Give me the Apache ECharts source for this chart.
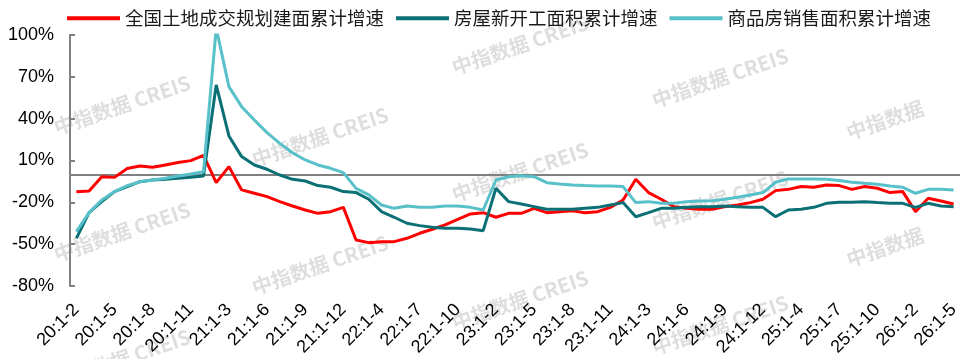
<!DOCTYPE html>
<html>
<head>
<meta charset="utf-8">
<script src="https://cdn.jsdelivr.net/npm/echarts@6/dist/echarts.min.js"></script>
<style>
html,body{margin:0;padding:0;background:#fff;}
#chart{width:972px;height:359px;}
</style>
</head>
<body>
<div id="chart"></div>
<script>
var categories = [
  '20:1-2','20:1-3','20:1-4','20:1-5','20:1-6','20:1-7','20:1-8','20:1-9','20:1-10','20:1-11','20:1-12',
  '21:1-2','21:1-3','21:1-4','21:1-5','21:1-6','21:1-7','21:1-8','21:1-9','21:1-10','21:1-11','21:1-12',
  '22:1-2','22:1-3','22:1-4','22:1-5','22:1-6','22:1-7','22:1-8','22:1-9','22:1-10','22:1-11','22:1-12',
  '23:1-2','23:1-3','23:1-4','23:1-5','23:1-6','23:1-7','23:1-8','23:1-9','23:1-10','23:1-11','23:1-12',
  '24:1-2','24:1-3','24:1-4','24:1-5','24:1-6','24:1-7','24:1-8','24:1-9','24:1-10','24:1-11','24:1-12',
  '25:1-2','25:1-3','25:1-4','25:1-5','25:1-6','25:1-7','25:1-8','25:1-9','25:1-10','25:1-11','25:1-12',
  '26:1-2','26:1-3','26:1-4','26:1-5'
];

var landArea = [
  -12.4,-11.9,-1.6,-2.1,4.2,6.1,5.1,6.8,8.5,9.9,13.7,
  -5.9,5.6,-11.1,-13.5,-15.9,-19.5,-22.6,-25.5,-27.9,-26.7,-23.6,
  -47.0,-48.9,-48.2,-48.2,-45.8,-42.2,-39.3,-36.2,-32.2,-28.3,-27.4,
  -30.7,-27.9,-27.9,-24.3,-27.4,-26.7,-26.0,-27.4,-26.7,-23.6,-18.3,
  -3.5,-13.0,-17.8,-23.1,-24.3,-25.0,-25.0,-23.1,-21.9,-20.2,-17.8,
  -11.6,-10.7,-8.7,-9.2,-7.6,-8.0,-10.7,-8.7,-9.9,-13.0,-12.3,
  -26.7,-17.1,-19.0,-21.2
];

var newStarts = [
  -45.8,-27.4,-19.5,-12.3,-8.7,-5.2,-4.0,-3.5,-2.8,-2.0,-1.1,
  64.2,27.6,12.8,6.8,3.7,-0.4,-3.5,-4.7,-8.0,-9.2,-12.3,
  -13.0,-17.8,-26.7,-30.7,-35.0,-36.7,-37.9,-38.6,-38.6,-39.1,-40.3,
  -9.9,-19.5,-21.2,-23.1,-25.0,-25.0,-25.0,-24.3,-23.6,-21.9,-20.2,
  -30.3,-27.4,-24.3,-24.3,-23.6,-23.1,-23.1,-22.6,-23.1,-23.6,-23.6,
  -30.3,-25.5,-25.0,-23.6,-20.7,-20.0,-20.0,-19.5,-20.2,-20.7,-20.7,
  -23.6,-20.7,-22.6,-23.1
];

var salesArea = [
  -41.0,-27.4,-18.3,-12.3,-8.0,-5.2,-4.0,-2.8,-1.1,0.3,2.0,
  104.9,63.0,48.6,39.0,30.0,22.3,15.6,10.4,6.8,4.4,1.3,
  -10.0,-14.7,-21.9,-24.3,-22.6,-23.6,-23.6,-22.6,-22.6,-23.6,-25.5,
  -4.0,-1.6,-0.9,-1.6,-5.9,-6.8,-7.6,-8.0,-8.3,-8.3,-8.7,
  -20.2,-19.5,-20.7,-20.7,-19.5,-19.0,-18.8,-17.8,-16.4,-14.7,-13.0,
  -5.6,-3.2,-3.2,-3.2,-3.5,-4.4,-5.6,-6.4,-7.1,-8.3,-9.2,
  -13.5,-10.7,-10.7,-11.1
];

var seriesNames = ['全国土地成交规划建面累计增速', '房屋新开工面积累计增速', '商品房销售面积累计增速'];
var seriesColors = ['#ff0000', '#0b7075', '#58c0c9'];
var yMin = -80, yMax = 100, yStep = 30;

var wmFull = '中指数据 CREIS';
var wmShort = '中指数据';
var watermarks = [
  [122,105,wmFull],[122,232,wmFull],[122,359,wmFull],
  [320,137,wmFull],[320,265,wmFull],
  [520,45,wmFull],[520,172,wmFull],[520,300,wmFull],
  [720,78,wmFull],[720,200,wmFull],[720,325,wmFull],
  [885,120,wmShort],[885,247,wmShort]
];

var chart = echarts.init(document.getElementById('chart'), null, {renderer:'canvas'});

var graphics = watermarks.map(function(w){
  return {
    type: 'text', x: w[0], y: w[1], rotation: 0.33, z: 0, silent: true,
    style: {
      text: w[2], fill: '#dedede', align: 'center', verticalAlign: 'middle',
      font: 'bold 20px "Noto Sans CJK SC", sans-serif'
    }
  };
});

var data = [landArea, newStarts, salesArea];
var series = data.map(function(d, i){
  var s = {
    name: seriesNames[i], type: 'line', data: d, symbol: 'none', showSymbol: false,
    smooth: false, z: 3 + i,
    lineStyle: {color: seriesColors[i], width: 3},
    itemStyle: {color: seriesColors[i]}
  };
  if (i === 0) {
    s.markLine = {
      silent: true, symbol: ['none','none'], label: {show:false},
      lineStyle: {color:'#808080', width:2, type:'solid'},
      emphasis: {disabled: true},
      data: [{yAxis: 0}],
      z: 1
    };
  }
  return s;
});

chart.setOption({
  animation: false,
  backgroundColor: '#fff',
  graphic: graphics,
  legend: {
    top: 4, left: 62, itemWidth: 53, itemHeight: 4, itemGap: 12,
    icon: 'rect',
    textStyle: {fontSize: 18.5, color: '#1a1a1a', fontFamily: '"Noto Sans CJK SC", sans-serif'},
    data: seriesNames
  },
  grid: {left: 70, right: 12, top: 35, bottom: 73, containLabel: false},
  xAxis: {
    type: 'category', data: categories, boundaryGap: true,
    axisLine: {show: false}, axisTick: {show: false}, splitLine: {show:false},
    axisLabel: {
      interval: 2, rotate: 45, fontSize: 18, color: '#000', margin: 21,
      fontFamily: '"Liberation Sans", Arial, sans-serif'
    }
  },
  yAxis: {
    type: 'value', min: yMin, max: yMax, interval: yStep,
    axisLine: {show: true, lineStyle: {color: '#808080', width: 2}},
    axisTick: {show: true, inside: true, length: 5, lineStyle: {color: '#808080', width: 2}},
    splitLine: {show: false},
    axisLabel: {
      formatter: '{value}%', fontSize: 18, color: '#000', margin: 16,
      fontFamily: '"Liberation Sans", Arial, sans-serif'
    }
  },
  series: series
});
</script>
</body>
</html>
